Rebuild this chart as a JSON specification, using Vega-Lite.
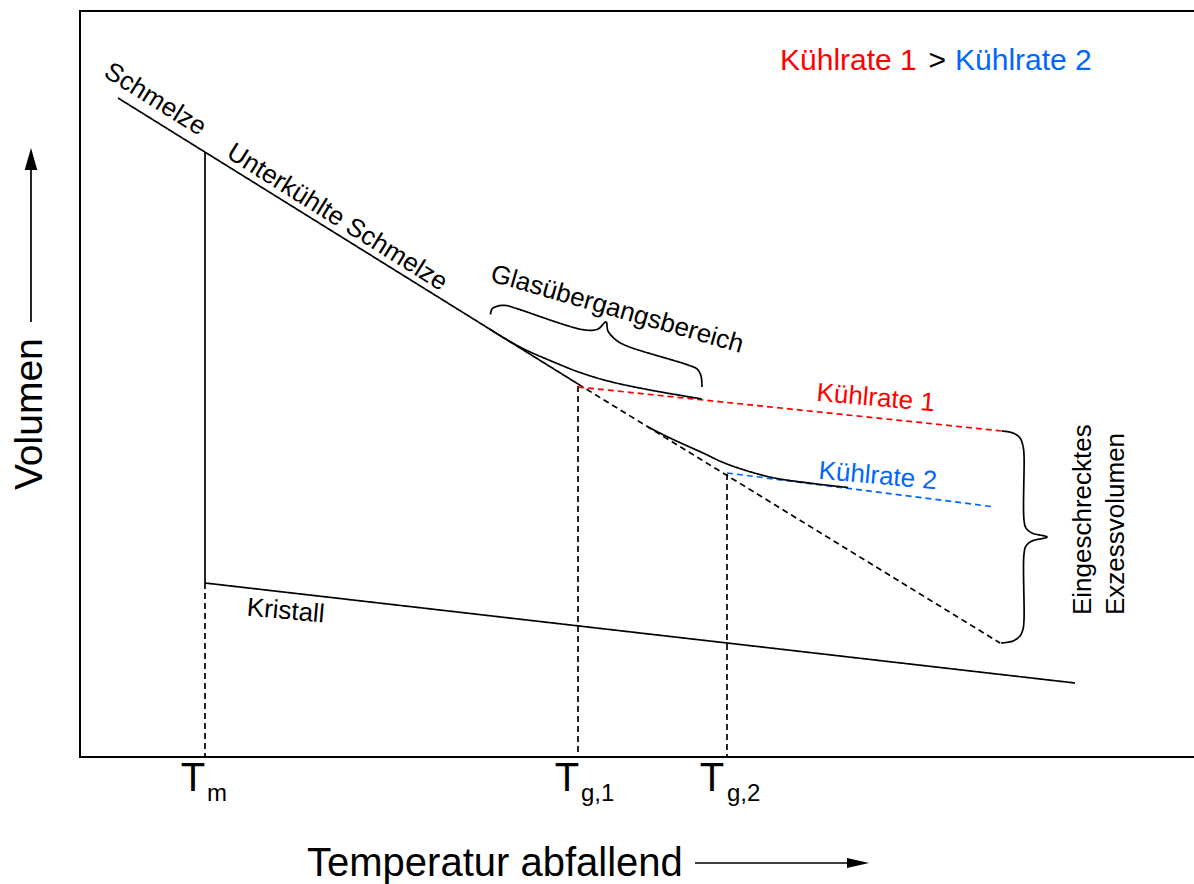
{
  "$schema": "https://vega.github.io/schema/vega-lite/v6.json",
  "width": 1114,
  "height": 746,
  "autosize": {"type": "none"},
  "padding": {"left": 80, "top": 11, "right": 0, "bottom": 127},
  "background": "white",
  "config": {"view": {"stroke": null}, "font": "Liberation Sans"},
  "datasets": {
    "rahmen": [
      {"i": 0, "t": 111.4, "v": 0},
      {"i": 1, "t": 0, "v": 0},
      {"i": 2, "t": 0, "v": 74.6},
      {"i": 3, "t": 111.4, "v": 74.6}
    ],
    "verlauf": [
      {"series": "Schmelze", "gruppe": "allgemein", "art": "Verlauf", "i": 0, "t": 3.8, "v": 65.9},
      {"series": "Schmelze", "gruppe": "allgemein", "art": "Verlauf", "i": 1, "t": 49.8, "v": 37.3},
      {"series": "Tm", "gruppe": "allgemein", "art": "Verlauf", "i": 0, "t": 12.5, "v": 60.5},
      {"series": "Tm", "gruppe": "allgemein", "art": "Verlauf", "i": 1, "t": 12.5, "v": 17.4},
      {"series": "Tm Hilfslinie", "gruppe": "allgemein", "art": "Hilfslinie", "i": 0, "t": 12.5, "v": 17.4},
      {"series": "Tm Hilfslinie", "gruppe": "allgemein", "art": "Hilfslinie", "i": 1, "t": 12.5, "v": 0},
      {"series": "Kristall", "gruppe": "allgemein", "art": "Verlauf", "i": 0, "t": 12.5, "v": 17.4},
      {"series": "Kristall", "gruppe": "allgemein", "art": "Verlauf", "i": 1, "t": 99.5, "v": 7.4},
      {"series": "Schmelze extrapoliert", "gruppe": "allgemein", "art": "Extrapolation", "i": 0, "t": 49.8, "v": 37.3},
      {"series": "Schmelze extrapoliert", "gruppe": "allgemein", "art": "Extrapolation", "i": 1, "t": 92.0, "v": 11.4},
      {"series": "Tg1 Hilfslinie", "gruppe": "allgemein", "art": "Hilfslinie", "i": 0, "t": 49.8, "v": 37.1},
      {"series": "Tg1 Hilfslinie", "gruppe": "allgemein", "art": "Hilfslinie", "i": 1, "t": 49.8, "v": 0},
      {"series": "Tg2 Hilfslinie", "gruppe": "allgemein", "art": "Hilfslinie", "i": 0, "t": 64.7, "v": 28.3},
      {"series": "Tg2 Hilfslinie", "gruppe": "allgemein", "art": "Hilfslinie", "i": 1, "t": 64.7, "v": 0},
      {"series": "Glas 1", "gruppe": "Kühlrate 1", "art": "Extrapolation", "i": 0, "t": 49.8, "v": 37.0},
      {"series": "Glas 1", "gruppe": "Kühlrate 1", "art": "Extrapolation", "i": 1, "t": 92.2, "v": 32.6},
      {"series": "Glas 2", "gruppe": "Kühlrate 2", "art": "Extrapolation", "i": 0, "t": 64.7, "v": 28.4},
      {"series": "Glas 2", "gruppe": "Kühlrate 2", "art": "Extrapolation", "i": 1, "t": 91.5, "v": 25.0},
      {"series": "Übergang 1", "gruppe": "allgemein", "art": "Verlauf", "i": 0, "t": 41.0, "v": 42.77},
      {"series": "Übergang 1", "gruppe": "allgemein", "art": "Verlauf", "i": 1, "t": 42.5, "v": 41.84},
      {"series": "Übergang 1", "gruppe": "allgemein", "art": "Verlauf", "i": 2, "t": 44.5, "v": 40.75},
      {"series": "Übergang 1", "gruppe": "allgemein", "art": "Verlauf", "i": 3, "t": 47.0, "v": 39.65},
      {"series": "Übergang 1", "gruppe": "allgemein", "art": "Verlauf", "i": 4, "t": 50.0, "v": 38.45},
      {"series": "Übergang 1", "gruppe": "allgemein", "art": "Verlauf", "i": 5, "t": 53.0, "v": 37.55},
      {"series": "Übergang 1", "gruppe": "allgemein", "art": "Verlauf", "i": 6, "t": 57.0, "v": 36.7},
      {"series": "Übergang 1", "gruppe": "allgemein", "art": "Verlauf", "i": 7, "t": 62.2, "v": 35.8},
      {"series": "Übergang 2", "gruppe": "allgemein", "art": "Verlauf", "i": 0, "t": 56.8, "v": 33.0},
      {"series": "Übergang 2", "gruppe": "allgemein", "art": "Verlauf", "i": 1, "t": 59.0, "v": 31.9},
      {"series": "Übergang 2", "gruppe": "allgemein", "art": "Verlauf", "i": 2, "t": 62.3, "v": 30.4},
      {"series": "Übergang 2", "gruppe": "allgemein", "art": "Verlauf", "i": 3, "t": 64.7, "v": 29.3},
      {"series": "Übergang 2", "gruppe": "allgemein", "art": "Verlauf", "i": 4, "t": 69.0, "v": 28.0},
      {"series": "Übergang 2", "gruppe": "allgemein", "art": "Verlauf", "i": 5, "t": 73.3, "v": 27.35},
      {"series": "Übergang 2", "gruppe": "allgemein", "art": "Verlauf", "i": 6, "t": 76.8, "v": 26.95},
      {"series": "Klammer Glas", "gruppe": "allgemein", "art": "Verlauf", "i": 0, "t": 41.05, "v": 44.25},
      {"series": "Klammer Glas", "gruppe": "allgemein", "art": "Verlauf", "i": 1, "t": 41.2, "v": 44.8},
      {"series": "Klammer Glas", "gruppe": "allgemein", "art": "Verlauf", "i": 2, "t": 41.8, "v": 45.1},
      {"series": "Klammer Glas", "gruppe": "allgemein", "art": "Verlauf", "i": 3, "t": 42.6, "v": 45.15},
      {"series": "Klammer Glas", "gruppe": "allgemein", "art": "Verlauf", "i": 4, "t": 43.5, "v": 44.9},
      {"series": "Klammer Glas", "gruppe": "allgemein", "art": "Verlauf", "i": 5, "t": 50.5, "v": 42.7},
      {"series": "Klammer Glas", "gruppe": "allgemein", "art": "Verlauf", "i": 6, "t": 51.8, "v": 42.8},
      {"series": "Klammer Glas", "gruppe": "allgemein", "art": "Verlauf", "i": 7, "t": 52.6, "v": 43.5},
      {"series": "Klammer Glas", "gruppe": "allgemein", "art": "Verlauf", "i": 8, "t": 52.8, "v": 42.6},
      {"series": "Klammer Glas", "gruppe": "allgemein", "art": "Verlauf", "i": 9, "t": 53.6, "v": 41.7},
      {"series": "Klammer Glas", "gruppe": "allgemein", "art": "Verlauf", "i": 10, "t": 54.7, "v": 41.1},
      {"series": "Klammer Glas", "gruppe": "allgemein", "art": "Verlauf", "i": 11, "t": 60.8, "v": 39.2},
      {"series": "Klammer Glas", "gruppe": "allgemein", "art": "Verlauf", "i": 12, "t": 61.7, "v": 38.8},
      {"series": "Klammer Glas", "gruppe": "allgemein", "art": "Verlauf", "i": 13, "t": 62.1, "v": 38.1},
      {"series": "Klammer Glas", "gruppe": "allgemein", "art": "Verlauf", "i": 14, "t": 62.2, "v": 37.0},
      {"series": "Klammer Exzess", "gruppe": "allgemein", "art": "Verlauf", "i": 0, "t": 92.2, "v": 32.6},
      {"series": "Klammer Exzess", "gruppe": "allgemein", "art": "Verlauf", "i": 1, "t": 93.3, "v": 32.4},
      {"series": "Klammer Exzess", "gruppe": "allgemein", "art": "Verlauf", "i": 2, "t": 94.0, "v": 31.9},
      {"series": "Klammer Exzess", "gruppe": "allgemein", "art": "Verlauf", "i": 3, "t": 94.3, "v": 31.1},
      {"series": "Klammer Exzess", "gruppe": "allgemein", "art": "Verlauf", "i": 4, "t": 94.4, "v": 30.2},
      {"series": "Klammer Exzess", "gruppe": "allgemein", "art": "Verlauf", "i": 5, "t": 94.4, "v": 23.7},
      {"series": "Klammer Exzess", "gruppe": "allgemein", "art": "Verlauf", "i": 6, "t": 94.6, "v": 22.9},
      {"series": "Klammer Exzess", "gruppe": "allgemein", "art": "Verlauf", "i": 7, "t": 95.2, "v": 22.4},
      {"series": "Klammer Exzess", "gruppe": "allgemein", "art": "Verlauf", "i": 8, "t": 96.7, "v": 22.0},
      {"series": "Klammer Exzess", "gruppe": "allgemein", "art": "Verlauf", "i": 9, "t": 95.2, "v": 21.6},
      {"series": "Klammer Exzess", "gruppe": "allgemein", "art": "Verlauf", "i": 10, "t": 94.6, "v": 21.1},
      {"series": "Klammer Exzess", "gruppe": "allgemein", "art": "Verlauf", "i": 11, "t": 94.4, "v": 20.3},
      {"series": "Klammer Exzess", "gruppe": "allgemein", "art": "Verlauf", "i": 12, "t": 94.4, "v": 13.7},
      {"series": "Klammer Exzess", "gruppe": "allgemein", "art": "Verlauf", "i": 13, "t": 94.3, "v": 12.8},
      {"series": "Klammer Exzess", "gruppe": "allgemein", "art": "Verlauf", "i": 14, "t": 94.0, "v": 12.1},
      {"series": "Klammer Exzess", "gruppe": "allgemein", "art": "Verlauf", "i": 15, "t": 93.3, "v": 11.6},
      {"series": "Klammer Exzess", "gruppe": "allgemein", "art": "Verlauf", "i": 16, "t": 92.1, "v": 11.4},
      {"series": "Pfeil Volumen", "gruppe": "allgemein", "art": "Verlauf", "i": 0, "t": -4.9, "v": 43.5},
      {"series": "Pfeil Volumen", "gruppe": "allgemein", "art": "Verlauf", "i": 1, "t": -4.9, "v": 59.2},
      {"series": "Pfeil Temperatur", "gruppe": "allgemein", "art": "Verlauf", "i": 0, "t": 61.5, "v": -10.6},
      {"series": "Pfeil Temperatur", "gruppe": "allgemein", "art": "Verlauf", "i": 1, "t": 77.0, "v": -10.6}
    ],
    "pfeilspitzen": [
      {"rolle": "oben", "t": -4.9, "v": 59.8},
      {"rolle": "rechts", "t": 77.8, "v": -10.6}
    ],
    "beschriftung": [
      {"rolle": "steil", "text": "Schmelze", "t": 7.1, "v": 65.1, "gruppe": "allgemein"},
      {"rolle": "steil", "text": "Unterkühlte Schmelze", "t": 25.3, "v": 53.3, "gruppe": "allgemein"},
      {"rolle": "glas", "text": "Glasübergangsbereich", "t": 53.5, "v": 44.0, "gruppe": "allgemein"},
      {"rolle": "flach", "text": "Kühlrate 1", "t": 79.5, "v": 35.1, "gruppe": "Kühlrate 1"},
      {"rolle": "flach", "text": "Kühlrate 2", "t": 79.7, "v": 27.3, "gruppe": "Kühlrate 2"},
      {"rolle": "flach", "text": "Kristall", "t": 20.5, "v": 13.8, "gruppe": "allgemein"},
      {"rolle": "senkrecht", "text": "Eingeschrecktes", "t": 101.1, "v": 14.2, "gruppe": "allgemein"},
      {"rolle": "senkrecht", "text": "Exzessvolumen", "t": 104.4, "v": 14.2, "gruppe": "allgemein"},
      {"rolle": "legende", "text": "Kühlrate 1", "t": 70.0, "v": 68.7, "gruppe": "Kühlrate 1"},
      {"rolle": "legende", "text": ">", "t": 84.85, "v": 68.7, "gruppe": "allgemein"},
      {"rolle": "legende", "text": "Kühlrate 2", "t": 87.5, "v": 68.7, "gruppe": "Kühlrate 2"},
      {"rolle": "achse_y", "text": "Volumen", "t": -3.8, "v": 26.7, "gruppe": "allgemein"},
      {"rolle": "achse_x", "text": "Temperatur abfallend", "t": 22.7, "v": -11.9, "gruppe": "allgemein"},
      {"rolle": "T", "text": "T", "t": 11.3, "v": -3.4, "gruppe": "allgemein"},
      {"rolle": "T", "text": "T", "t": 48.7, "v": -3.4, "gruppe": "allgemein"},
      {"rolle": "T", "text": "T", "t": 63.2, "v": -3.4, "gruppe": "allgemein"},
      {"rolle": "index", "text": "m", "t": 12.7, "v": -4.4, "gruppe": "allgemein"},
      {"rolle": "index", "text": "g,1", "t": 50.1, "v": -4.4, "gruppe": "allgemein"},
      {"rolle": "index", "text": "g,2", "t": 64.7, "v": -4.4, "gruppe": "allgemein"}
    ]
  },
  "encoding": {
    "x": {"field": "t", "type": "quantitative", "title": null, "axis": null, "scale": {"domain": [0, 111.4], "nice": false, "zero": false}},
    "y": {"field": "v", "type": "quantitative", "title": null, "axis": null, "scale": {"domain": [0, 74.6], "nice": false, "zero": false}}
  },
  "layer": [
    {
      "data": {"name": "rahmen"},
      "mark": {"type": "line", "color": "black", "strokeWidth": 2, "strokeJoin": "miter"},
      "encoding": {"order": {"field": "i", "type": "quantitative"}}
    },
    {
      "data": {"name": "verlauf"},
      "mark": {"type": "line", "interpolate": "catmull-rom", "strokeWidth": 1.7},
      "encoding": {
        "detail": {"field": "series", "type": "nominal"},
        "order": {"field": "i", "type": "quantitative"},
        "color": {"field": "gruppe", "type": "nominal", "legend": null, "scale": {"domain": ["allgemein", "Kühlrate 1", "Kühlrate 2"], "range": ["#000000", "#ff0000", "#0066ff"]}},
        "strokeDash": {"field": "art", "type": "nominal", "legend": null, "scale": {"domain": ["Verlauf", "Hilfslinie", "Extrapolation"], "range": [[1, 0], [6, 4], [6, 4]]}}
      }
    },
    {
      "data": {"name": "pfeilspitzen"},
      "transform": [{"filter": "datum.rolle == 'oben'"}],
      "mark": {"type": "point", "filled": true, "color": "black", "opacity": 1, "size": 484, "strokeWidth": 0, "shape": "M0,-1L0.57,1L-0.57,1Z"}
    },
    {
      "data": {"name": "pfeilspitzen"},
      "transform": [{"filter": "datum.rolle == 'rechts'"}],
      "mark": {"type": "point", "filled": true, "color": "black", "opacity": 1, "size": 484, "strokeWidth": 0, "shape": "M1,0L-1,-0.45L-1,0.45Z"}
    },
    {
      "data": {"name": "beschriftung"},
      "transform": [{"filter": "datum.rolle == 'steil'"}],
      "mark": {"type": "text", "font": "Liberation Sans", "fontSize": 26, "angle": 32, "align": "center", "baseline": "alphabetic", "color": "black"},
      "encoding": {"text": {"field": "text"}}
    },
    {
      "data": {"name": "beschriftung"},
      "transform": [{"filter": "datum.rolle == 'glas'"}],
      "mark": {"type": "text", "font": "Liberation Sans", "fontSize": 26, "angle": 16, "align": "center", "baseline": "alphabetic", "color": "black"},
      "encoding": {"text": {"field": "text"}}
    },
    {
      "data": {"name": "beschriftung"},
      "transform": [{"filter": "datum.rolle == 'flach'"}],
      "mark": {"type": "text", "font": "Liberation Sans", "fontSize": 26, "angle": 5, "align": "center", "baseline": "alphabetic"},
      "encoding": {
        "text": {"field": "text"},
        "color": {"field": "gruppe", "type": "nominal", "legend": null, "scale": {"domain": ["allgemein", "Kühlrate 1", "Kühlrate 2"], "range": ["#000000", "#ff0000", "#0066ff"]}}
      }
    },
    {
      "data": {"name": "beschriftung"},
      "transform": [{"filter": "datum.rolle == 'senkrecht'"}],
      "mark": {"type": "text", "font": "Liberation Sans", "fontSize": 26, "angle": 270, "align": "left", "baseline": "alphabetic", "color": "black"},
      "encoding": {"text": {"field": "text"}}
    },
    {
      "data": {"name": "beschriftung"},
      "transform": [{"filter": "datum.rolle == 'legende'"}],
      "mark": {"type": "text", "font": "Liberation Sans", "fontSize": 30, "align": "left", "baseline": "alphabetic"},
      "encoding": {
        "text": {"field": "text"},
        "color": {"field": "gruppe", "type": "nominal", "legend": null, "scale": {"domain": ["allgemein", "Kühlrate 1", "Kühlrate 2"], "range": ["#000000", "#ff0000", "#0066ff"]}}
      }
    },
    {
      "data": {"name": "beschriftung"},
      "transform": [{"filter": "datum.rolle == 'achse_y'"}],
      "mark": {"type": "text", "font": "Liberation Sans", "fontSize": 39, "angle": 270, "align": "left", "baseline": "alphabetic", "color": "black"},
      "encoding": {"text": {"field": "text"}}
    },
    {
      "data": {"name": "beschriftung"},
      "transform": [{"filter": "datum.rolle == 'achse_x'"}],
      "mark": {"type": "text", "font": "Liberation Sans", "fontSize": 40, "align": "left", "baseline": "alphabetic", "color": "black"},
      "encoding": {"text": {"field": "text"}}
    },
    {
      "data": {"name": "beschriftung"},
      "transform": [{"filter": "datum.rolle == 'T'"}],
      "mark": {"type": "text", "font": "Liberation Sans", "fontSize": 40, "align": "center", "baseline": "alphabetic", "color": "black"},
      "encoding": {"text": {"field": "text"}}
    },
    {
      "data": {"name": "beschriftung"},
      "transform": [{"filter": "datum.rolle == 'index'"}],
      "mark": {"type": "text", "font": "Liberation Sans", "fontSize": 24, "align": "left", "baseline": "alphabetic", "color": "black"},
      "encoding": {"text": {"field": "text"}}
    }
  ]
}
